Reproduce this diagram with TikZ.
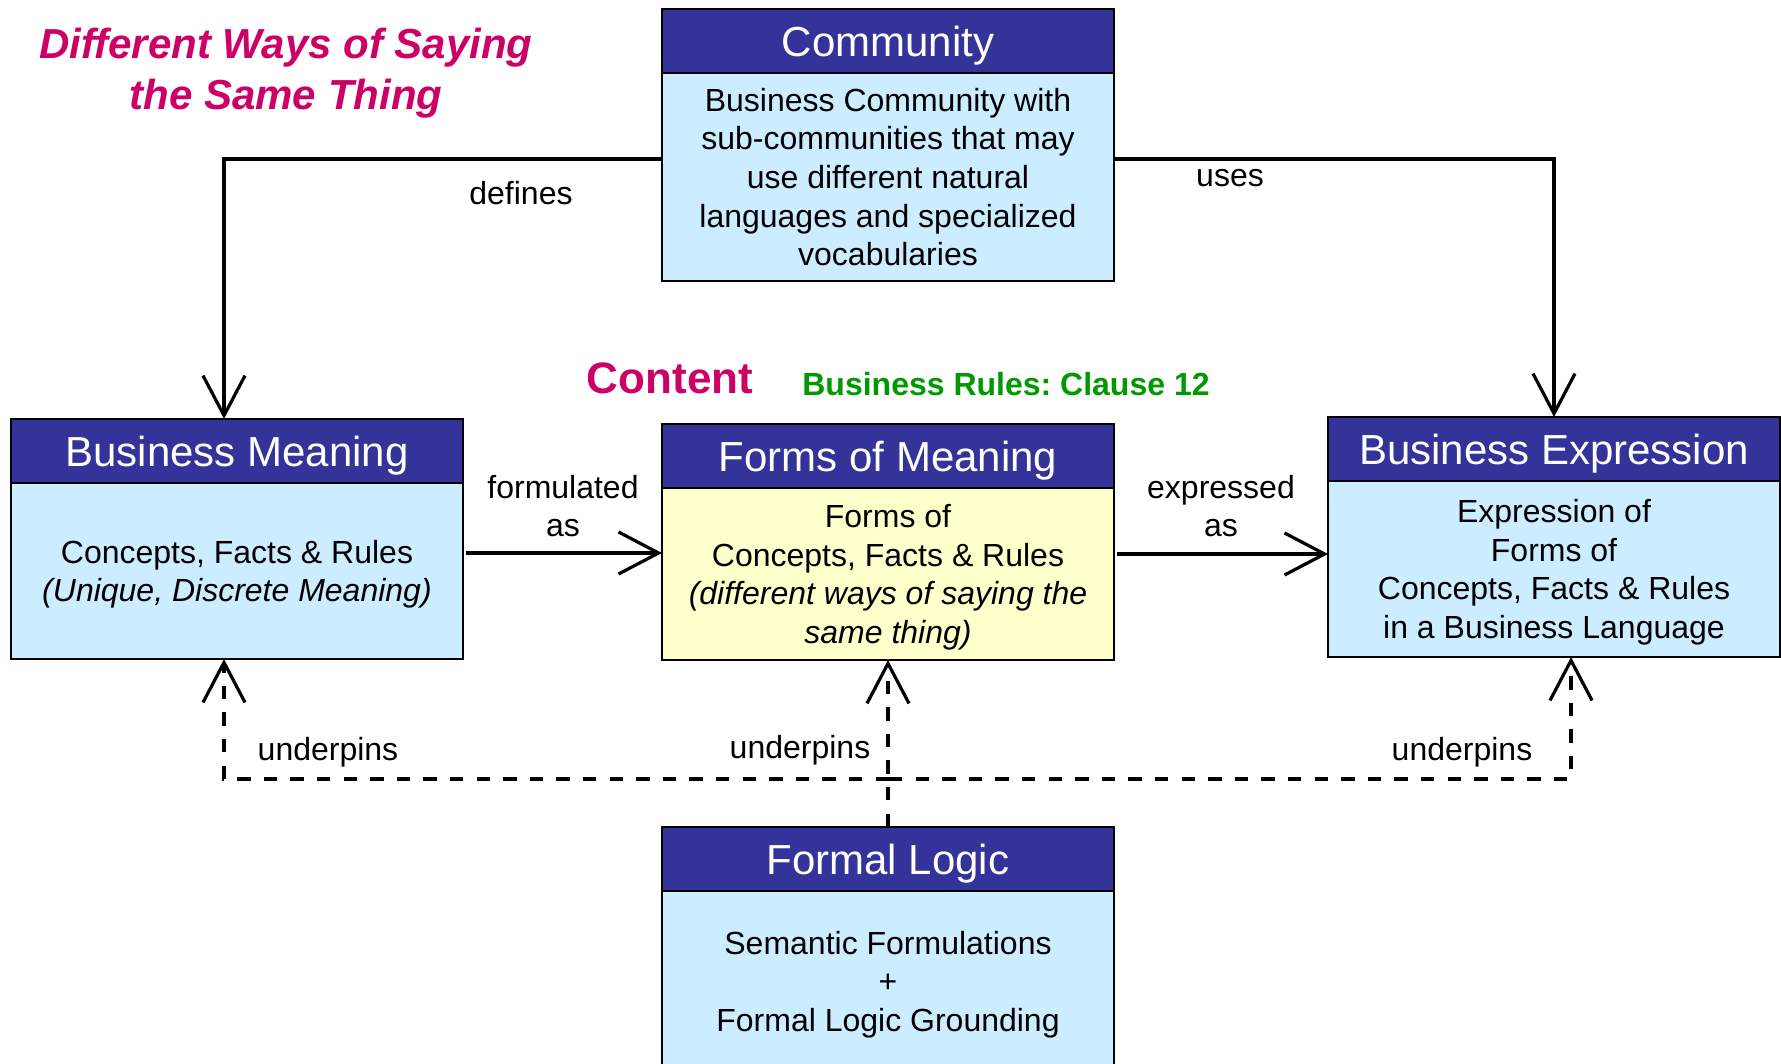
\documentclass[tikz,border=0pt]{standalone}
\usepackage{fontspec}
\setmainfont{Liberation Sans}
\usetikzlibrary{positioning}
\usetikzlibrary{arrows.meta}
\frenchspacing

\definecolor{hdblue}{HTML}{333399}
\definecolor{boxblue}{HTML}{CCECFF}
\definecolor{boxyellow}{HTML}{FFFFCC}
\definecolor{titlepink}{HTML}{CC0066}
\definecolor{rulegreen}{HTML}{009900}

\begin{document}
\begin{tikzpicture}[
x=0.5pt, y=-0.5pt,
arr/.style={draw, line width=1.6pt, -{Straight Barb[length=20pt,width=21pt]}},
dasharr/.style={arr, dash pattern=on 6.7pt off 6.6pt}
]

\tikzstyle{hd} = [draw, fill=hdblue, text=white, minimum width=226pt, minimum height=32pt, inner sep=0pt, outer sep=0pt, line width=1pt, text depth=0pt, font=\fontsize{21}{25}\selectfont]
\tikzstyle{bd} = [draw, fill=boxblue, minimum width=226pt, inner sep=0pt, outer sep=0pt, line width=1pt, text depth=0pt, align=center, font=\fontsize{16}{19.3}\selectfont]
\tikzstyle{lbl} = [align=center, font=\fontsize{16}{19.3}\selectfont]

\useasboundingbox (0,0) rectangle (1781,1064);

% title
\node[align=center, text=titlepink, font=\fontsize{21}{25.5}\selectfont\bfseries\itshape] (title) at (286,73) {Different Ways of Saying\\the Same Thing};
\node[text=titlepink, font=\fontsize{22}{26}\selectfont\bfseries] (content) at (670,378) {Content};
\node[text=rulegreen, font=\fontsize{16}{19}\selectfont\bfseries] (clause) at (1006,384) {Business Rules: Clause 12};

% boxes
\node[hd, anchor=north west] (comm) at (662,9) {Community};
\node[bd, below=0pt of comm, minimum height=104pt] (comm-b) {Business Community with\\sub-communities that may\\use different natural\\languages and specialized\\vocabularies};

\node[hd, anchor=north west] (bm) at (11,419) {Business Meaning};
\node[bd, below=0pt of bm, minimum height=88pt] (bm-b) {Concepts, Facts \& Rules\\\textit{(Unique, Discrete Meaning)}};

\node[hd, anchor=north west] (fom) at (662,424) {Forms of Meaning};
\node[bd, below=0pt of fom, minimum height=86pt, fill=boxyellow] (fom-b) {Forms of\\Concepts, Facts \& Rules\\\textit{(different ways of saying the}\\\textit{same thing)}};

\node[hd, anchor=north west] (be) at (1328,417) {Business Expression};
\node[bd, below=0pt of be, minimum height=88pt] (be-b) {Expression of\\Forms of\\Concepts, Facts \& Rules\\in a Business Language};

\node[hd, anchor=north west] (fl) at (662,827) {Formal Logic};
\node[bd, below=0pt of fl, minimum height=90pt] (fl-b) {Semantic Formulations\\+\\Formal Logic Grounding};

% connectors
\draw[arr] ([yshift=9pt]comm-b.west) -| ([xshift=-6.5pt]bm.north);
\draw[arr] ([yshift=9pt]comm-b.east) -| (be.north);
\draw[arr] ([xshift=1.5pt,yshift=9pt]bm-b.east) -- ([yshift=9pt]bm-b.east -| fom-b.west);
\draw[arr] ([xshift=1.5pt,yshift=10pt]fom-b.east) -- ([yshift=10pt]fom-b.east -| be-b.west);

\coordinate (hub) at (889,779);
\draw[dasharr] (fl.north) -- (fom-b.south);
\draw[dasharr] (hub) -| ([xshift=-6.5pt]bm-b.south);
\draw[dasharr] (hub) -| ([xshift=8.5pt]be-b.south);

% connector labels
\node[lbl] (defines) at (521,193) {defines};
\node[lbl] (uses) at (1230,178) {uses};
\node[lbl] (formas) at (563,506) {formulated\\as};
\node[lbl] (expas) at (1221,506) {expressed\\as};
\node[lbl] (und-l) at (328,752) {underpins};
\node[lbl] (und-m) at (800,750) {underpins};
\node[lbl] (und-r) at (1462,752) {underpins};
\end{tikzpicture}
\end{document}
